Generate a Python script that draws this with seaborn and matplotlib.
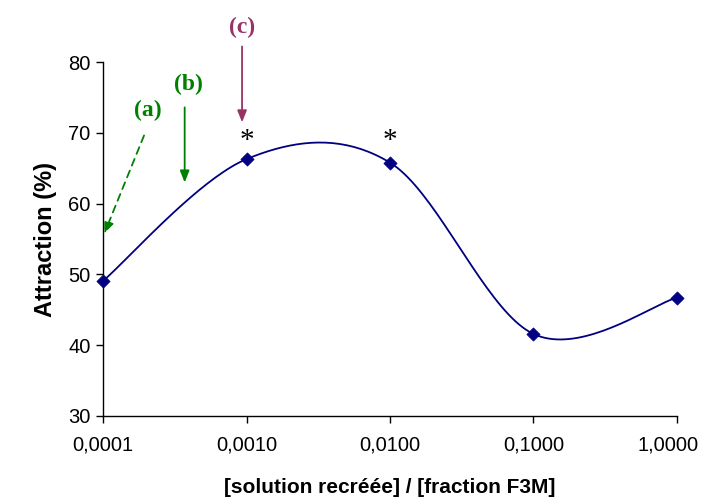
import numpy as np
import pandas as pd
import matplotlib
matplotlib.use("Agg")
import matplotlib.pyplot as plt
from matplotlib.transforms import ScaledTranslation
import seaborn as sns

# Données
ratio = [0.0001, 0.001, 0.01, 0.1, 1.0]
attraction = [49.1, 66.3, 65.8, 41.6, 46.7]
xtick_labels = ["0,0001", "0,0010", "0,0100", "0,1000", "1,0000"]
yticks = [30, 40, 50, 60, 70, 80]
star_x = [0.001, 0.01]
star_y = [68.8, 68.8]

NAVY = "#000080"
GREEN = "#008000"
PURPLE = "#993366"


# Lissage type Excel (Catmull-Rom) en coordonnées écran (log x)
def lisser(xs, ys, n=40, sx=143.5, sy=7.08):
    u = np.log10(xs) * sx
    v = np.array(ys) * sy
    pts = np.column_stack([u, v])
    pts = np.vstack([pts[0], pts, pts[-1]])
    out = []
    for i in range(1, len(pts) - 2):
        p0, p1, p2, p3 = pts[i - 1], pts[i], pts[i + 1], pts[i + 2]
        m1 = (p2 - p0) / 2
        m2 = (p3 - p1) / 2
        for t in np.linspace(0, 1, n, endpoint=(i == len(pts) - 3)):
            h00 = 2 * t**3 - 3 * t**2 + 1
            h10 = t**3 - 2 * t**2 + t
            h01 = -2 * t**3 + 3 * t**2
            h11 = t**3 - t**2
            out.append(h00 * p1 + h10 * m1 + h01 * p2 + h11 * m2)
    out = np.array(out)
    return 10 ** (out[:, 0] / sx), out[:, 1] / sy


sns.set_style("ticks")
plt.rcParams["font.family"] = ["Liberation Sans", "DejaVu Sans"]

fig = plt.figure(figsize=(7.02, 4.97), dpi=100)
ax = fig.add_axes([0.147, 0.163, 0.817, 0.712])

cx, cy = lisser(ratio, attraction)
courbe = pd.DataFrame({"x": cx, "y": cy})
points = pd.DataFrame({"x": ratio, "y": attraction})

sns.lineplot(data=courbe, x="x", y="y", ax=ax, color=NAVY, linewidth=1.3,
             sort=False, estimator=None)
sns.scatterplot(data=points, x="x", y="y", ax=ax, color=NAVY, marker="D",
                s=45, edgecolor=NAVY, zorder=5, clip_on=False)

ax.set_xscale("log")
ax.set_xlim(0.0001, 1.0)
ax.set_ylim(30, 80)
ax.set_xticks(ratio)
ax.set_xticklabels(xtick_labels)
ax.xaxis.set_minor_locator(matplotlib.ticker.NullLocator())
ax.set_yticks(yticks)
ax.tick_params(axis="both", labelsize=14.5, length=5, width=1, color="black",
               labelcolor="black")
ax.tick_params(axis="x", pad=9)
ax.tick_params(axis="y", pad=4)
for s in ["top", "right"]:
    ax.spines[s].set_visible(False)
for s in ["left", "bottom"]:
    ax.spines[s].set_color("black")
    ax.spines[s].set_linewidth(1)
ax.set_xlabel("[solution recréée] / [fraction F3M]", fontsize=15,
              fontweight="bold", labelpad=17, color="black")
ax.set_ylabel("Attraction (%)", fontsize=17, fontweight="bold", labelpad=8,
              color="black")

# décaler la dernière étiquette pour qu'elle tienne dans l'image
last = ax.get_xticklabels()[-1]
last.set_transform(last.get_transform()
                   + ScaledTranslation(-0.09, 0, fig.dpi_scale_trans))

# astérisques
serif = ["Liberation Serif", "DejaVu Serif"]
for x, y in zip(star_x, star_y):
    ax.text(x, y, "*", ha="center", va="center", fontsize=21, color="black",
            family=serif)

# flèches et étiquettes
ax.annotate("", xy=(0.0001, 55.4), xytext=(0.000196, 70.0),
            arrowprops=dict(arrowstyle="-|>,head_length=0.5,head_width=0.2",
                            color=GREEN, lw=1.3,
                            linestyle=(0, (4, 3)), mutation_scale=14),
            annotation_clip=False)
ax.text(0.000204, 73.2, "(a)", color=GREEN, fontsize=17, fontweight="bold",
        family=serif, ha="center", va="center")

ax.annotate("", xy=(0.00037, 62.6), xytext=(0.00037, 74.0),
            arrowprops=dict(arrowstyle="-|>,head_length=0.5,head_width=0.2",
                            color=GREEN, lw=1.3, mutation_scale=14),
            annotation_clip=False)
ax.text(0.00039, 76.9, "(b)", color=GREEN, fontsize=17, fontweight="bold",
        family=serif, ha="center", va="center", clip_on=False)

ax.annotate("", xy=(0.00093, 71.1), xytext=(0.00093, 82.6),
            arrowprops=dict(arrowstyle="-|>,head_length=0.5,head_width=0.2",
                            color=PURPLE, lw=1.3, mutation_scale=14),
            annotation_clip=False)
ax.text(0.00093, 84.9, "(c)", color=PURPLE, fontsize=17, fontweight="bold",
        family=serif, ha="center", va="center", clip_on=False)

fig.savefig("out.png", dpi=100)
